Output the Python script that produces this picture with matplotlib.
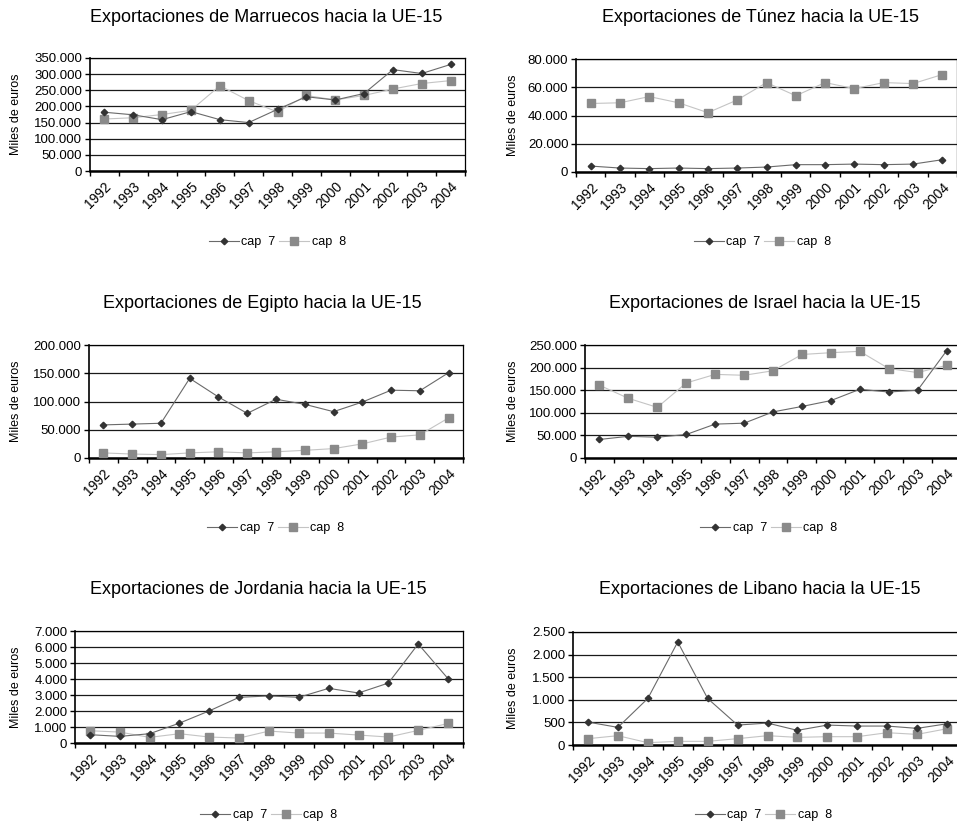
import matplotlib
matplotlib.use("Agg")
import matplotlib.pyplot as plt
from matplotlib.ticker import FixedLocator, FuncFormatter

plt.rcParams['font.family'] = ['Liberation Sans', 'DejaVu Sans']

years = ['1992', '1993', '1994', '1995', '1996', '1997', '1998', '1999',
         '2000', '2001', '2002', '2003', '2004']

marruecos_cap7 = [182000, 174000, 159000, 184000, 159000, 150000, 191000, 230000, 220000, 240000, 314000, 302000, 330000]
marruecos_cap8 = [161000, 165000, 175000, 188000, 264000, 218000, 183000, 234000, 220000, 234000, 254000, 271000, 280000]

tunez_cap7 = [4200, 2800, 2400, 2800, 2400, 2800, 3500, 5200, 5200, 5600, 5200, 5600, 8700]
tunez_cap8 = [48500, 49000, 53400, 49000, 42000, 51000, 63300, 54000, 63300, 59000, 63300, 62600, 69000]

egipto_cap7 = [58600, 60000, 61500, 141000, 108000, 79000, 104000, 95000, 82000, 99000, 120000, 119000, 151000]
egipto_cap8 = [9000, 7000, 6000, 9000, 11000, 9000, 11000, 13600, 16600, 25000, 37000, 41000, 71000]

israel_cap7 = [41000, 48000, 46000, 52000, 75000, 77000, 102000, 114000, 127000, 152000, 146000, 150000, 237000]
israel_cap8 = [161000, 132000, 112000, 166000, 185000, 183000, 193000, 229000, 233000, 236000, 198000, 189000, 205000]

jordania_cap7 = [520, 414, 580, 1242, 2008, 2857, 2940, 2857, 3416, 3126, 3747, 6190, 4017]
jordania_cap8 = [766, 683, 352, 580, 373, 310, 745, 621, 621, 497, 373, 787, 1221]

libano_cap7 = [507, 390, 1029, 2279, 1029, 441, 485, 324, 441, 419, 419, 368, 470]
libano_cap8 = [140, 206, 51, 81, 81, 140, 206, 169, 184, 184, 272, 235, 360]

titles = ['Exportaciones de Marruecos hacia la UE-15',
          'Exportaciones de Túnez hacia la UE-15',
          'Exportaciones de Egipto hacia la UE-15',
          'Exportaciones de Israel hacia la UE-15',
          'Exportaciones de Jordania hacia la UE-15',
          'Exportaciones de Libano hacia la UE-15']
series_labels = ['cap  7', 'cap  8']
y_max = [350000, 80000, 200000, 250000, 7000, 2500]
y_step = [50000, 20000, 50000, 50000, 1000, 500]
data = [(marruecos_cap7, marruecos_cap8), (tunez_cap7, tunez_cap8),
        (egipto_cap7, egipto_cap8), (israel_cap7, israel_cap8),
        (jordania_cap7, jordania_cap8), (libano_cap7, libano_cap8)]

W, H = 957, 824
fig = plt.figure(figsize=(W / 100, H / 100), dpi=100)

# layout in pixels: (left, right, top, bottom), title (x, y), ylabel x, legend y
boxes = [(90, 465, 58, 171), (576, 957, 59, 172),
         (89, 463, 345, 458), (585, 961, 345, 458),
         (75, 463, 631, 743), (573, 962, 632, 745)]
title_pos = [(266, 18), (760, 18), (262, 303), (765, 303), (258, 590), (760, 590)]
ylabel_x = [16, 513, 16, 513, 16, 513]
legend_y = [242, 242, 528, 528, 815, 815]


def fmt(v, pos):
    return f"{int(round(v)):,}".replace(',', '.')


x = list(range(len(years)))
for i in range(6):
    l, r, t, b = boxes[i]
    ax = fig.add_axes([l / W, 1 - b / H, (r - l) / W, (b - t) / H])
    c7, c8 = data[i]
    ax.plot(x, c7, color='#6a6a6a', lw=0.8, marker='D', ms=3.3,
            mfc='#333333', mec='#333333', label=series_labels[0], zorder=4)
    ax.plot(x, c8, color='#c4c4c4', lw=0.8, marker='s', ms=5.2,
            mfc='#8a8a8a', mec='#8a8a8a', label=series_labels[1], zorder=3)
    ax.set_xlim(-0.5, len(years) - 0.5)
    ax.set_ylim(0, y_max[i])
    yt = list(range(0, y_max[i] + 1, y_step[i]))
    ax.yaxis.set_major_locator(FixedLocator(yt))
    ax.yaxis.set_major_formatter(FuncFormatter(fmt))
    ax.grid(axis='y', color='#1a1a1a', lw=0.9)
    ax.set_axisbelow(True)
    ax.set_xticks(x)
    ax.set_xticklabels(years, rotation=45, ha='right', va='top',
                       rotation_mode='anchor', fontsize=10)
    ax.set_xticks([k - 0.5 for k in range(len(years) + 1)], minor=True)
    ax.tick_params(axis='x', which='major', length=0, pad=6)
    ax.tick_params(axis='x', which='minor', length=3.5, width=1, direction='out')
    ax.tick_params(axis='y', length=3.5, width=1, labelsize=9.5, pad=2)
    for s in ['top', 'right']:
        ax.spines[s].set_linewidth(0.9)
    ax.spines['left'].set_linewidth(1.2)
    ax.spines['bottom'].set_linewidth(1.8)
    fig.text(title_pos[i][0] / W, 1 - title_pos[i][1] / H, titles[i],
             ha='center', va='center', fontsize=13)
    fig.text(ylabel_x[i] / W, 1 - ((t + b) / 2) / H, 'Miles de euros',
             rotation=90, ha='center', va='center', fontsize=9)
    cx = ((l + min(r, 957)) / 2)
    if i % 2 == 1:
        cx = (l + r) / 2 - 4
    ax.legend(loc='center', bbox_to_anchor=(cx / W, 1 - legend_y[i] / H),
              bbox_transform=fig.transFigure, ncol=2, frameon=False,
              fontsize=9, handlelength=2.4, handletextpad=0.2,
              columnspacing=0.3, borderpad=0)

fig.savefig('out.png', dpi=100)
